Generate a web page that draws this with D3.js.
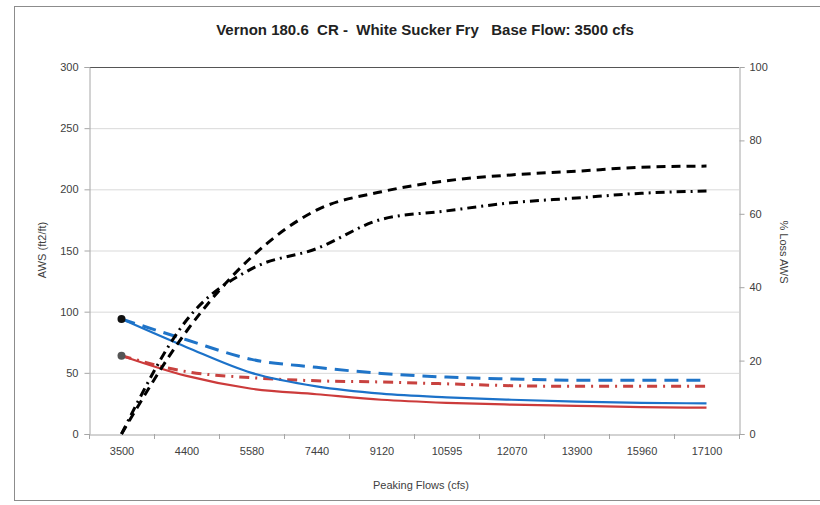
<!DOCTYPE html>
<html><head><meta charset="utf-8">
<script src="https://cdn.jsdelivr.net/npm/d3@7"></script>
<style>body{margin:0;background:#fff;}svg{display:block;font-family:Arial,"Liberation Sans",sans-serif;}</style>
</head><body>
<svg id="c" width="820" height="505"></svg>
<script>
const categories = ["3500","4400","5580","7440","9120","10595","12070","13900","15960","17100"];
const awsSolidBlue = [94, 71, 50, 39, 33, 30, 28, 26.5, 25.5, 25];
const awsDashBlue  = [94, 77, 61, 54.5, 49.5, 46.5, 45, 44, 44, 44];
const awsSolidRed  = [64, 47.5, 37, 32.5, 28, 25.5, 24, 23, 22, 21.5];
const awsDashRed   = [64, 51, 46, 43.5, 42.5, 41, 39.5, 39, 39, 39];
const lossDashed   = [0, 28, 48.2, 61, 66, 69, 70.6, 71.6, 72.7, 73];
const lossDashDot  = [0, 31, 45, 50.5, 58.5, 60.8, 63, 64.3, 65.6, 66.2];
const leftTicks = [0,50,100,150,200,250,300];
const rightTicks = [0,20,40,60,80,100];

const svg = d3.select("#c");
const L=89, R=739, T=67, B=434;

// outer border
svg.append("rect").attr("x",14.5).attr("y",6.5).attr("width",820).attr("height",494)
  .attr("fill","none").attr("stroke","#8c8c8c").attr("stroke-width",1);

const x = d3.scalePoint().domain(categories).range([L,R]).padding(0.5);
const xb = d3.scaleBand().domain(categories).range([L,R]);
const yL = d3.scaleLinear().domain([0,300]).range([B,T]);
const yR = d3.scaleLinear().domain([0,100]).range([B,T]);

// gridlines
svg.append("g").selectAll("line").data(leftTicks.filter(d=>d>0 && d<300)).join("line")
  .attr("x1",L).attr("x2",R).attr("y1",d=>yL(d)+0.5).attr("y2",d=>yL(d)+0.5)
  .attr("stroke","#d9d9d9").attr("stroke-width",1);
// top border
svg.append("line").attr("x1",L).attr("x2",R).attr("y1",T+0.5).attr("y2",T+0.5).attr("stroke","#555").attr("stroke-width",1);

// left axis
const gl = svg.append("g").attr("transform",`translate(${L+0.5},0)`)
  .call(d3.axisLeft(yL).tickValues(leftTicks).tickSize(5).tickPadding(6));
// right axis
const gr = svg.append("g").attr("transform",`translate(${R+0.5},0)`)
  .call(d3.axisRight(yR).tickValues(rightTicks).tickSize(5).tickPadding(5));
// bottom axis
const gb = svg.append("g").attr("transform",`translate(0,${B+0.5})`)
  .call(d3.axisBottom(x).tickSize(0).tickPadding(13));
svg.append("g").selectAll("line").data(d3.range(categories.length+1)).join("line")
  .attr("x1",i=>L+i*xb.step()+0.5).attr("x2",i=>L+i*xb.step()+0.5)
  .attr("y1",B).attr("y2",B+5).attr("stroke","#a6a6a6");

[gl,gr,gb].forEach(g=>{
  g.select(".domain").attr("stroke","#a6a6a6");
  g.selectAll(".tick line").attr("stroke","#a6a6a6");
  g.selectAll("text").attr("font-size","11px").attr("fill","#404040").attr("font-family","Arial, 'Liberation Sans', sans-serif");
});

// titles
svg.append("text").attr("x",425).attr("y",35).attr("text-anchor","middle")
  .attr("font-size","15px").attr("font-weight","bold").attr("fill","#222")
  .style("white-space","pre")
  .text("Vernon 180.6  CR -  White Sucker Fry   Base Flow: 3500 cfs");
svg.append("text").attr("x",421).attr("y",489).attr("text-anchor","middle")
  .attr("font-size","11px").attr("fill","#404040").text("Peaking Flows (cfs)");
svg.append("text").attr("transform","translate(46,250) rotate(-90)").attr("text-anchor","middle")
  .attr("font-size","11px").attr("fill","#404040").text("AWS (ft2/ft)");
svg.append("text").attr("transform","translate(780,252) rotate(90)").attr("text-anchor","middle")
  .attr("font-size","11px").attr("fill","#404040").text("% Loss AWS");

const curve = d3.curveMonotoneX;
function draw(vals, scale, color, dash, w){
  const line = d3.line().x((d,i)=>x(categories[i])).y(d=>scale(d)).curve(curve);
  svg.append("path").datum(vals).attr("d",line).attr("fill","none")
    .attr("stroke",color).attr("stroke-width",w).attr("stroke-dasharray",dash)
    .attr("stroke-linecap","butt");
}
draw(awsDashBlue, yL, "#1f74c8", "14,8", 3);
draw(awsDashRed, yL, "#c8423f", "10,6,2,6", 3);
draw(awsSolidRed, yL, "#cc3b3b", null, 2.2);
draw(awsSolidBlue, yL, "#1c72c9", null, 2.2);
draw(lossDashed, yR, "#000", "9,6", 3);
draw(lossDashDot, yR, "#000", "9,5,2,5", 3);

// markers
svg.append("circle").attr("cx",x(categories[0])).attr("cy",yL(awsSolidBlue[0])).attr("r",4).attr("fill","#111");
svg.append("circle").attr("cx",x(categories[0])).attr("cy",yL(awsSolidRed[0])).attr("r",4).attr("fill","#555");
</script>
</body></html>
